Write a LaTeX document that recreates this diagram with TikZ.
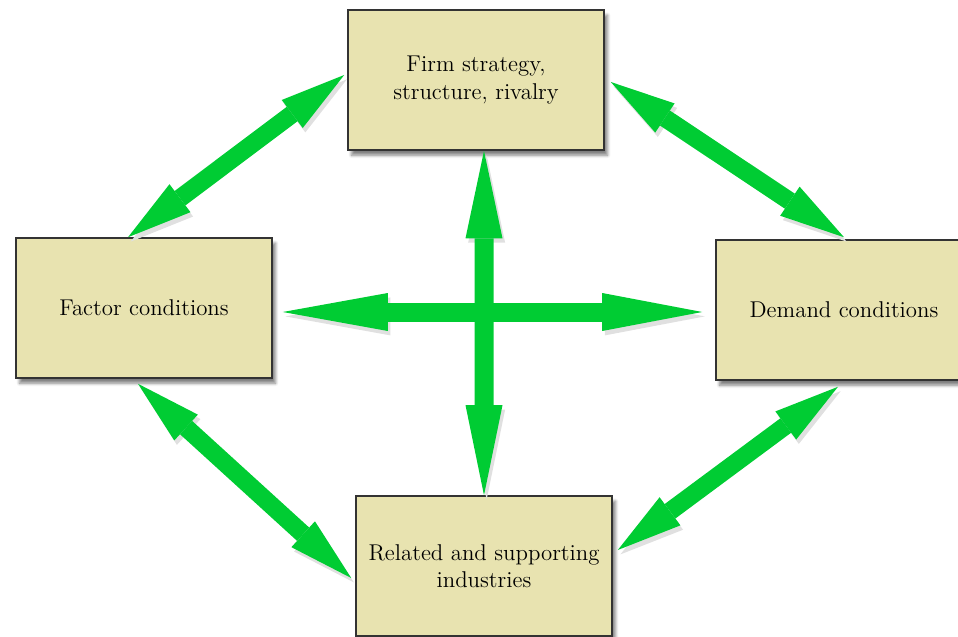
\documentclass[tikz,border=0pt]{standalone}
\usetikzlibrary{arrows.meta,shadows.blur}
\usepackage{xcolor}
\definecolor{arrow-green}{RGB}{0,204,51}
\definecolor{box-fill}{RGB}{232,227,176}
\colorlet{box-border}{black!80}

\begin{document}
\begin{tikzpicture}[
	factor/.style={draw=box-border, line width=0.9pt, fill=box-fill, minimum width=5.12cm, minimum height=2.8cm, align=center, font=\fontsize{13}{15.5}\selectfont, blur shadow={shadow xshift=2pt, shadow yshift=-3pt, shadow blur steps=6, shadow opacity=50}},
	twoway/.style={arrow-green, line width=0.38cm, {Triangle[length=2.1cm,width=0.76cm,line width=0pt]}-{Triangle[length=2cm,width=0.76cm,line width=0pt]}, preaction={draw=black!12, transform canvas={shift={(1.5pt,-2.5pt)}}}},
	slant/.style={arrow-green, line width=0.36cm, {Triangle[length=1.3cm,width=0.7cm,line width=0pt]}-{Triangle[length=1.3cm,width=0.7cm,line width=0pt]}, preaction={draw=black!12, transform canvas={shift={(1.5pt,-2.5pt)}}}}
	]
	\useasboundingbox (0,0) rectangle (19.16,12.72);
	\node (firm) [factor] at (9.52,11.12) {Firm strategy,\\structure, rivalry};
	\node (cond) [factor] at (2.88,6.56) {Factor conditions};
	\node (demand) [factor] at (16.88,6.52) {Demand conditions};
	\node (related) [factor] at (9.68,1.4) {Related and supporting\\industries};
	% cross in the middle
	\draw[twoway] ([xshift=0.2cm]cond.east |- 0,6.48) -- ([xshift=-0.26cm]demand.west |- 0,6.48);
	\draw[twoway, {Triangle[length=1.75cm,width=0.74cm,line width=0pt]}-{Triangle[length=1.8cm,width=0.74cm,line width=0pt]}] ([xshift=0.16cm]firm.south) -- (related.north);
	% round the edge
	\draw[slant] ([xshift=-0.32cm]cond.north) -- ([xshift=-0.06cm,yshift=0.1cm]firm.west);
	\draw[slant] ([xshift=0.12cm,yshift=-0.04cm]firm.east) -- ([yshift=0.04cm]demand.north);
	\draw[slant] ([xshift=-0.12cm,yshift=-0.1cm]cond.south) -- ([xshift=-0.08cm,yshift=-0.24cm]related.west);
	\draw[slant] ([xshift=-0.12cm,yshift=-0.12cm]demand.south) -- ([xshift=0.1cm,yshift=0.32cm]related.east);
\end{tikzpicture}
\end{document}
